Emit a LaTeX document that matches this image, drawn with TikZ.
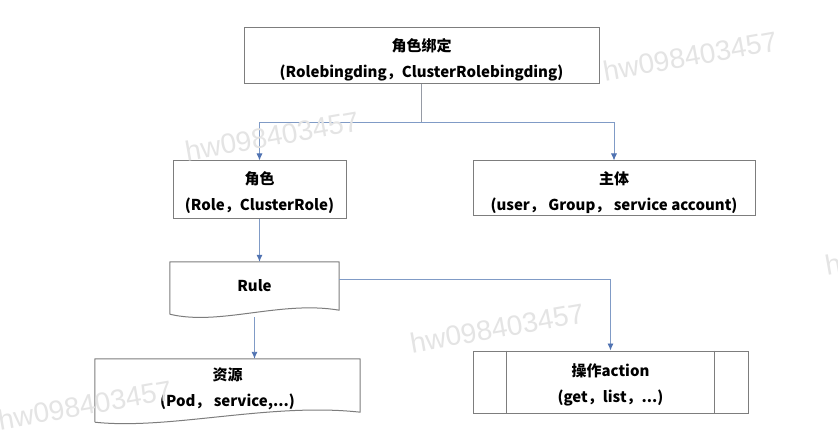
\documentclass[tikz,border=0pt]{standalone}
\usepackage{fontspec}
\setmainfont{Noto Sans CJK SC}
\newfontfamily\markfont{Liberation Sans}
\usetikzlibrary{arrows.meta}
\definecolor{boxline}{RGB}{125,125,125}
\definecolor{linkblue}{RGB}{128,155,198}
\definecolor{tipblue}{RGB}{80,115,178}
\definecolor{stemgray}{RGB}{150,155,165}
\definecolor{wmark}{RGB}{228,228,228}

\begin{document}
\begin{tikzpicture}[x=1pt,y=-1pt]
    \tikzstyle{box}=[draw=boxline,line width=1pt,inner sep=0pt]
    \tikzstyle{plain}=[align=center,inner sep=0pt,font=\bfseries\fontsize{15}{26}\selectfont]
    \tikzstyle{doc}=[draw=boxline,line width=1pt,line join=round]
    \tikzstyle{link}=[draw=linkblue,line width=0.9pt]
    \tikzstyle{arr}=[-{Latex[length=7pt,width=6pt,color=tipblue]}]
    \tikzstyle{wmtext}=[text=wmark,rotate=10,inner sep=0pt,font=\markfont\fontsize{28}{28}\selectfont]

    \fill[white] (0,0) rectangle (838,430);
    \useasboundingbox (0,0) rectangle (838,430);

    \node[box,minimum width=355,minimum height=56] (bind) at (421.5,56) {};
    \node[plain] (bindtxt) at (421.5,60) {角色绑定\\(Rolebingding，ClusterRolebingding)};

    \node[box,minimum width=173,minimum height=58] (role) at (259.5,190) {};
    \node[plain] (roletxt) at (259.5,193) {角色\\(Role，ClusterRole)};

    \node[box,minimum width=282,minimum height=55] (subj) at (614,188.5) {};
    \node[plain] (subjtxt) at (614,192.5) {主体\\(user， Group， service account)};

    \node[plain,minimum width=169,minimum height=48] (rule) at (254.5,286) {Rule};
    \draw[doc] ([yshift=-4pt]rule.south west) -- (rule.north west) -- (rule.north east) -- (rule.south east)
        .. controls +(-59,-10) and +(50,12) .. ([yshift=-4pt]rule.south west);

    \node[plain,minimum width=265,minimum height=53] (res) at (227.5,385.5) {};
    \node[plain] (restxt) at (227.5,388.5) {资源\\(Pod， service,...)};
    \draw[doc] ([yshift=-10pt]res.south west) -- (res.north west) -- (res.north east) -- (res.south east)
        .. controls +(-90,-10) and +(75,8) .. ([yshift=-10pt]res.south west);

    \node[box,minimum width=275,minimum height=62] (act) at (610.5,382) {};
    \node[plain] (acttxt) at (610.5,384.5) {操作action\\(get，list，...)};
    \draw[doc] ([xshift=34pt]act.north west) -- ([xshift=34pt]act.south west);
    \draw[doc] ([xshift=-34pt]act.north east) -- ([xshift=-34pt]act.south east);

    \coordinate (split) at (421.5,122);
    \draw[draw=stemgray,line width=0.9pt] (bind.south) -- (split);
    \draw[link,arr] (split) -| (role.north);
    \draw[link,arr] (split) -| (subj.north);
    \draw[link,arr] (role.south) -- (role.south |- rule.north);
    \draw[link,arr] ([yshift=-18pt]rule.north east) -| (act.north);
    \draw[link,arr] ([yshift=-7pt]rule.south) -- (rule.south |- res.north);

    % watermarks
    \node[wmtext] (wm1) at (272,136) {hw098403457};
    \node[wmtext] (wm2) at (690,56) {hw098403457};
    \node[wmtext] (wm3) at (497,328) {hw098403457};
    \node[wmtext] (wm4) at (85,405) {hw098403457};
    \node[wmtext] (wm5) at (912,250) {hw098403457};
\end{tikzpicture}
\end{document}
